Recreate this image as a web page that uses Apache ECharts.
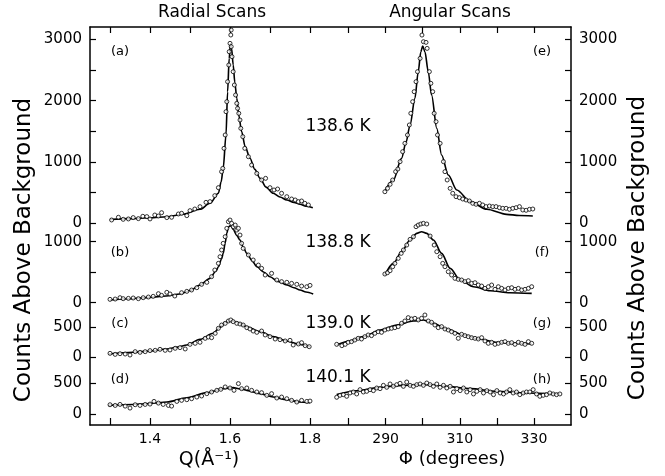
<!DOCTYPE html>
<html><head><meta charset="utf-8">
<script src="https://cdn.jsdelivr.net/npm/echarts@6/dist/echarts.min.js"></script>
<style>html,body{margin:0;padding:0;background:#fff}#c{width:665px;height:476px}</style>
</head><body><div id="c"></div>
<script>
// ---------- DATA (Q in 1/Å, Φ in degrees, counts above background) ----------
const fitA = [[1.300,62],[1.350,76],[1.400,91],[1.442,108],[1.483,147],[1.525,228],[1.550,326],[1.571,489],[1.578,680],[1.583,897],[1.590,1440],[1.594,2146],[1.598,2690],[1.601,2930],[1.604,2850],[1.608,2581],[1.612,2300],[1.617,2038],[1.622,1760],[1.629,1494],[1.638,1250],[1.650,1060],[1.662,880],[1.675,734],[1.690,590],[1.708,489],[1.725,430],[1.742,380],[1.760,340],[1.775,310],[1.790,280],[1.807,255]];
const ptsA = [[1.304,54],[1.321,98],[1.333,65],[1.346,71],[1.358,93],[1.371,76],[1.382,114],[1.392,109],[1.400,71],[1.412,135],[1.421,119],[1.429,173],[1.442,93],[1.454,98],[1.471,152],[1.479,163],[1.492,125],[1.500,206],[1.512,233],[1.525,271],[1.540,342],[1.550,353],[1.562,451],[1.571,581],[1.579,842],[1.582,896],[1.585,1222],[1.588,1440],[1.590,1820],[1.592,1983],[1.594,2309],[1.597,2581],[1.598,2798],[1.600,2934],[1.602,3070],[1.603,3151],[1.603,2880],[1.605,2716],[1.608,2472],[1.611,2255],[1.614,2092],[1.617,1956],[1.619,1874],[1.622,1793],[1.625,1684],[1.627,1548],[1.632,1412],[1.637,1222],[1.646,1086],[1.654,950],[1.667,814],[1.679,706],[1.689,733],[1.700,581],[1.710,543],[1.719,559],[1.729,489],[1.742,434],[1.754,396],[1.763,380],[1.771,353],[1.779,364],[1.787,326],[1.796,299]];

const fitB = [[1.300,44],[1.350,65],[1.400,88],[1.440,110],[1.475,143],[1.500,200],[1.525,290],[1.550,399],[1.565,520],[1.571,590],[1.579,720],[1.583,809],[1.588,980],[1.592,1137],[1.596,1240],[1.600,1260],[1.604,1250],[1.608,1200],[1.617,1100],[1.625,1028],[1.633,910],[1.642,809],[1.655,690],[1.667,590],[1.685,500],[1.700,426],[1.720,350],[1.742,290],[1.760,245],[1.775,208],[1.790,175],[1.808,143]];
const ptsB = [[1.300,55],[1.313,60],[1.325,82],[1.333,66],[1.346,71],[1.358,77],[1.371,66],[1.383,82],[1.396,93],[1.408,104],[1.421,148],[1.429,120],[1.442,170],[1.450,143],[1.462,110],[1.479,164],[1.492,186],[1.504,208],[1.517,246],[1.529,301],[1.542,334],[1.554,427],[1.562,536],[1.571,645],[1.575,754],[1.579,864],[1.583,973],[1.588,1082],[1.592,1219],[1.596,1328],[1.600,1355],[1.604,1301],[1.608,1246],[1.613,1273],[1.617,1191],[1.621,1219],[1.625,1109],[1.629,973],[1.633,891],[1.646,782],[1.658,700],[1.671,617],[1.679,563],[1.688,454],[1.704,481],[1.717,372],[1.729,345],[1.742,334],[1.754,317],[1.767,301],[1.779,273],[1.792,262],[1.800,284]];

const fitC = [[1.296,55],[1.358,83],[1.400,105],[1.442,139],[1.470,170],[1.492,205],[1.525,300],[1.558,400],[1.575,500],[1.588,580],[1.600,605],[1.610,598],[1.617,583],[1.642,510],[1.675,428],[1.708,344],[1.742,272],[1.775,216],[1.800,177]];
const ptsC = [[1.300,66],[1.313,49],[1.325,60],[1.338,55],[1.350,38],[1.363,94],[1.375,83],[1.388,94],[1.400,111],[1.413,116],[1.425,133],[1.438,116],[1.450,122],[1.463,150],[1.475,161],[1.488,139],[1.500,216],[1.513,233],[1.525,250],[1.538,316],[1.546,338],[1.554,327],[1.563,400],[1.571,483],[1.579,538],[1.588,566],[1.596,605],[1.602,622],[1.608,594],[1.617,566],[1.625,555],[1.633,538],[1.642,494],[1.650,472],[1.658,438],[1.667,416],[1.679,438],[1.688,372],[1.700,344],[1.713,305],[1.725,294],[1.738,272],[1.750,283],[1.758,205],[1.771,222],[1.779,244],[1.788,194],[1.798,177]];

const fitD = [[1.296,136],[1.358,152],[1.400,168],[1.442,191],[1.492,261],[1.542,343],[1.583,408],[1.608,425],[1.625,405],[1.642,381],[1.675,327],[1.708,272],[1.742,229],[1.775,191],[1.800,180]];
const ptsD = [[1.300,147],[1.313,136],[1.325,152],[1.338,125],[1.350,93],[1.363,147],[1.375,136],[1.388,152],[1.400,158],[1.410,201],[1.421,174],[1.433,152],[1.446,136],[1.454,125],[1.467,201],[1.479,218],[1.492,229],[1.504,245],[1.517,272],[1.529,289],[1.542,327],[1.554,354],[1.567,381],[1.577,398],[1.588,436],[1.600,419],[1.610,381],[1.621,490],[1.629,408],[1.642,419],[1.654,381],[1.667,354],[1.679,343],[1.692,300],[1.704,327],[1.717,256],[1.729,272],[1.742,245],[1.754,218],[1.767,191],[1.779,218],[1.792,201],[1.800,207]];

const fitE = [[289.8,526],[292.1,706],[294.3,1059],[295.5,1320],[296.6,1603],[297.9,2037],[298.8,2472],[299.5,2798],[300.0,2890],[300.6,2798],[301.5,2472],[302.4,2092],[303.8,1548],[305.1,1113],[306.9,787],[309.2,543],[312.8,353],[317.3,228],[322.6,146],[326.0,128],[329.7,120]];
const ptsE = [[289.8,515],[290.5,570],[291.2,635],[291.9,706],[292.7,842],[293.3,885],[293.9,1005],[294.6,1168],[295.2,1304],[295.9,1440],[296.4,1603],[296.8,1793],[297.3,1983],[297.7,2146],[298.2,2309],[298.6,2472],[299.3,2689],[299.8,3069],[300.2,2961],[300.9,2950],[301.2,2852],[301.8,2472],[302.2,2282],[302.7,2146],[303.1,1793],[303.6,1657],[304.0,1440],[304.7,1304],[305.6,1005],[306.0,842],[306.6,706],[307.4,570],[308.1,489],[309.0,434],[309.9,418],[310.8,396],[311.7,380],[312.6,364],[313.5,326],[314.4,310],[315.3,326],[316.2,299],[317.1,272],[318.0,282],[318.9,272],[319.8,272],[320.7,255],[321.6,244],[322.5,244],[323.4,228],[324.3,244],[325.2,255],[326.1,272],[327.0,217],[327.9,212],[328.8,228],[329.7,233]];

const fitF = [[289.8,454],[292.1,645],[294.3,836],[296.6,1028],[298.4,1137],[299.7,1164],[301.1,1137],[302.9,1028],[305.1,809],[307.4,563],[310.1,372],[313.7,262],[318.2,197],[323.5,164],[329.4,153]];
const ptsF = [[289.8,470],[290.5,492],[291.2,525],[291.9,590],[292.5,645],[293.4,727],[294.2,809],[294.8,864],[295.7,945],[296.6,1038],[297.5,1082],[298.2,1246],[298.8,1273],[299.5,1290],[300.2,1301],[301.1,1290],[302.0,1093],[303.1,945],[303.8,836],[304.7,754],[305.4,645],[306.0,590],[306.9,508],[307.8,454],[308.7,399],[309.6,383],[310.5,372],[311.4,345],[312.3,361],[313.2,317],[314.1,328],[315.0,290],[315.9,273],[316.8,235],[317.7,262],[318.6,290],[319.5,219],[320.4,262],[321.3,235],[322.2,208],[323.1,235],[324.0,246],[324.9,219],[325.8,235],[326.7,208],[327.6,219],[328.5,235],[329.4,262]];

const fitG = [[276.8,205],[280.4,272],[284.0,344],[288.5,455],[293.0,538],[297.5,605],[300.2,622],[302.9,566],[306.5,472],[311.0,372],[315.5,300],[320.0,250],[324.4,233],[329.4,222]];
const ptsG = [[276.8,216],[278.2,194],[279.1,216],[279.9,250],[280.8,261],[281.7,288],[282.6,316],[283.5,305],[284.4,344],[285.3,372],[286.2,361],[287.1,400],[288.0,427],[288.9,416],[289.8,455],[290.7,472],[291.6,483],[292.5,494],[293.4,511],[294.3,566],[295.2,605],[296.1,661],[297.0,639],[297.9,650],[298.8,622],[299.7,650],[300.6,705],[301.5,605],[302.4,583],[303.3,538],[304.2,494],[305.1,511],[306.0,472],[306.9,455],[307.8,427],[308.7,400],[309.6,316],[310.5,383],[311.4,361],[312.3,344],[313.2,327],[314.1,316],[315.0,305],[315.9,327],[316.8,272],[317.7,233],[318.6,250],[319.5,216],[320.4,233],[321.3,250],[322.2,261],[323.1,233],[324.0,244],[324.9,216],[325.8,250],[326.7,233],[327.6,216],[328.5,261],[329.4,233]];

const fitH = [[276.8,311],[282.2,374],[288.5,430],[294.8,462],[301.1,473],[306.5,446],[312.8,409],[320.0,365],[327.1,338],[337.0,322]];
const ptsH = [[276.8,268],[277.7,300],[278.6,311],[279.5,284],[280.4,338],[281.3,354],[282.2,322],[283.1,392],[284.0,354],[284.9,365],[285.8,392],[286.7,376],[287.6,419],[288.5,408],[289.4,462],[290.3,430],[291.2,484],[292.1,446],[293.0,473],[293.9,495],[294.8,446],[295.7,516],[296.6,462],[297.5,446],[298.4,473],[299.3,484],[300.2,462],[301.1,500],[302.0,473],[302.9,446],[303.8,484],[304.7,430],[305.6,462],[306.5,419],[307.4,446],[308.3,354],[309.2,408],[310.1,376],[311.0,419],[311.9,354],[312.8,392],[313.7,322],[314.6,365],[315.5,392],[316.4,338],[317.3,376],[318.2,354],[319.1,311],[320.0,376],[320.9,338],[321.8,322],[322.6,354],[323.5,392],[324.4,338],[325.3,354],[326.2,311],[327.1,338],[328.0,354],[328.9,354],[329.8,392],[330.7,322],[331.6,284],[332.5,300],[333.4,311],[334.3,338],[335.2,322],[336.1,311],[337.0,322]];

// tick labels
const qTickLabels = [1.4, 1.6, 1.8];
const phiTickLabels = [290, 310, 330];
const rowYMax = [3000, 1000, 500, 500];
const rowYLabels = [[0,1000,2000,3000],[0,1000],[0,500],[0,500]];
const panelTags = [['(a)','(e)'],['(b)','(f)'],['(c)','(g)'],['(d)','(h)']];
const tempLabels = ['138.6 K','138.8 K','139.0 K','140.1 K'];
const leftFits = [fitA, fitB, fitC, fitD], leftPts = [ptsA, ptsB, ptsC, ptsD];
const rightFits = [fitE, fitF, fitG, fitH], rightPts = [ptsE, ptsF, ptsG, ptsH];

// ---------- LAYOUT ----------
const FONT = 'DejaVu Sans';
const FR = {left: 90, top: 27, width: 481, height: 398};
const SPLIT = 330;
const rowBox = [{top: 39.3, height: 184}, {top: 241.7, height: 61}, {top: 327.3, height: 30}, {top: 383, height: 30.8}];
const tagY = [52, 253, 324, 380];
const tempY = [127, 243, 324, 378];

const grid = [], xAxis = [], yAxis = [], series = [];
const lineW = 1.5;
const hide = {show: false};

// frame grid 0
grid.push({left: FR.left, top: FR.top, width: FR.width, height: FR.height});
const frameAx = (pos) => ({type: 'value', gridIndex: 0, min: 0, max: 1, position: pos,
  axisLine: {show: true, onZero: false, lineStyle: {color: '#000', width: lineW}},
  axisTick: hide, axisLabel: hide, splitLine: hide});
xAxis.push(frameAx('bottom'), frameAx('top'));
yAxis.push(frameAx('left'), frameAx('right'));

// tick grids: 1 (Q), 2 (Φ)
const qLeft = FR.left + (1.3 - 1.25) / 0.6 * (SPLIT - FR.left);
const qWidth = 0.5 / 0.6 * (SPLIT - FR.left);
const pScale = (FR.left + FR.width - SPLIT) / 65;
grid.push({left: qLeft, top: FR.top, width: qWidth, height: FR.height});
grid.push({left: SPLIT + 5 * pScale, top: FR.top, width: 50 * pScale, height: FR.height});
function tickAx(gi, min, max, interval, pos, labels, dec) {
  return {type: 'value', gridIndex: gi, min, max, interval, position: pos,
    axisLine: {show: false, onZero: false},
    axisTick: {show: true, inside: true, length: pos === 'bottom' ? 7 : 6, lineStyle: {color: '#000', width: 1.2}},
    axisLabel: labels ? {show: true, margin: 7, color: '#000', fontFamily: FONT, fontSize: 14,
      formatter: v => labels.some(l => Math.abs(l - v) < 1e-6) ? v.toFixed(dec) : ''} : hide,
    splitLine: hide};
}
xAxis.push(tickAx(1, 1.3, 1.8, 0.1, 'bottom', qTickLabels, 1), tickAx(1, 1.3, 1.8, 0.1, 'top', null, 1));
xAxis.push(tickAx(2, 280, 330, 10, 'bottom', phiTickLabels, 0), tickAx(2, 280, 330, 10, 'top', null, 0));
yAxis.push({gridIndex: 1, type: 'value', show: false}, {gridIndex: 2, type: 'value', show: false});

// row grids
rowBox.forEach((rb, r) => {
  const gL = grid.length;
  grid.push({left: FR.left, top: rb.top, width: SPLIT - FR.left, height: rb.height});
  grid.push({left: SPLIT, top: rb.top, width: FR.left + FR.width - SPLIT, height: rb.height});
  const xL = xAxis.length;
  xAxis.push({type: 'value', gridIndex: gL, min: 1.25, max: 1.85, show: false});
  xAxis.push({type: 'value', gridIndex: gL + 1, min: 275, max: 340, show: false});
  const yL = yAxis.length;
  const yAx = (gi, pos) => ({type: 'value', gridIndex: gi, min: 0, max: rowYMax[r], interval: 500, position: pos,
    axisLine: {show: false, onZero: false},
    axisTick: {show: true, inside: true, length: 6, lineStyle: {color: '#000', width: 1.2}},
    axisLabel: {show: true, margin: 8, color: '#000', fontFamily: FONT, fontSize: 15,
      formatter: v => rowYLabels[r].includes(v) ? String(v) : ''},
    splitLine: hide});
  yAxis.push(yAx(gL, 'left'), yAx(gL + 1, 'right'));
  const lineS = (data, xi, yi) => ({type: 'line', xAxisIndex: xi, yAxisIndex: yi, data, showSymbol: false,
    smooth: 0.3, smoothMonotone: 'x', clip: false, silent: true,
    lineStyle: {color: '#000', width: 1.6}, z: 3});
  const ptS = (data, xi, yi) => ({type: 'scatter', xAxisIndex: xi, yAxisIndex: yi, data, symbol: 'circle',
    symbolSize: 4, clip: false, silent: true,
    itemStyle: {color: '#fff', borderColor: '#000', borderWidth: 1}, z: 4});
  series.push(lineS(leftFits[r], xL, yL), ptS(leftPts[r], xL, yL));
  series.push(lineS(rightFits[r], xL + 1, yL + 1), ptS(rightPts[r], xL + 1, yL + 1));
});

// texts
const T = (text, x, y, size, rot) => ({type: 'text', x, y, rotation: rot || 0, silent: true,
  style: {text, fill: '#000', fontFamily: FONT, fontSize: size, align: 'center', verticalAlign: 'middle'}});
const graphic = [
  T('Radial Scans', 212, 13, 17), T('Angular Scans', 450, 13, 17),
  T('Counts Above Background', 24, 250, 23, Math.PI / 2),
  T('Counts Above Background', 638, 248, 23, Math.PI / 2),
  T('Q(Å\u207B\u00B9)', 209, 460, 19), T('\u03A6 (degrees)', 452, 459, 18)
];
tempLabels.forEach((t, r) => graphic.push(T(t, 338, tempY[r], 17)));
panelTags.forEach((p, r) => { graphic.push(T(p[0], 120, tagY[r], 13)); graphic.push(T(p[1], 542, tagY[r], 13)); });

const chart = echarts.init(document.getElementById('c'), null, {renderer: 'canvas'});
chart.setOption({animation: false, backgroundColor: '#fff', grid, xAxis, yAxis, series, graphic});
</script></body></html>
